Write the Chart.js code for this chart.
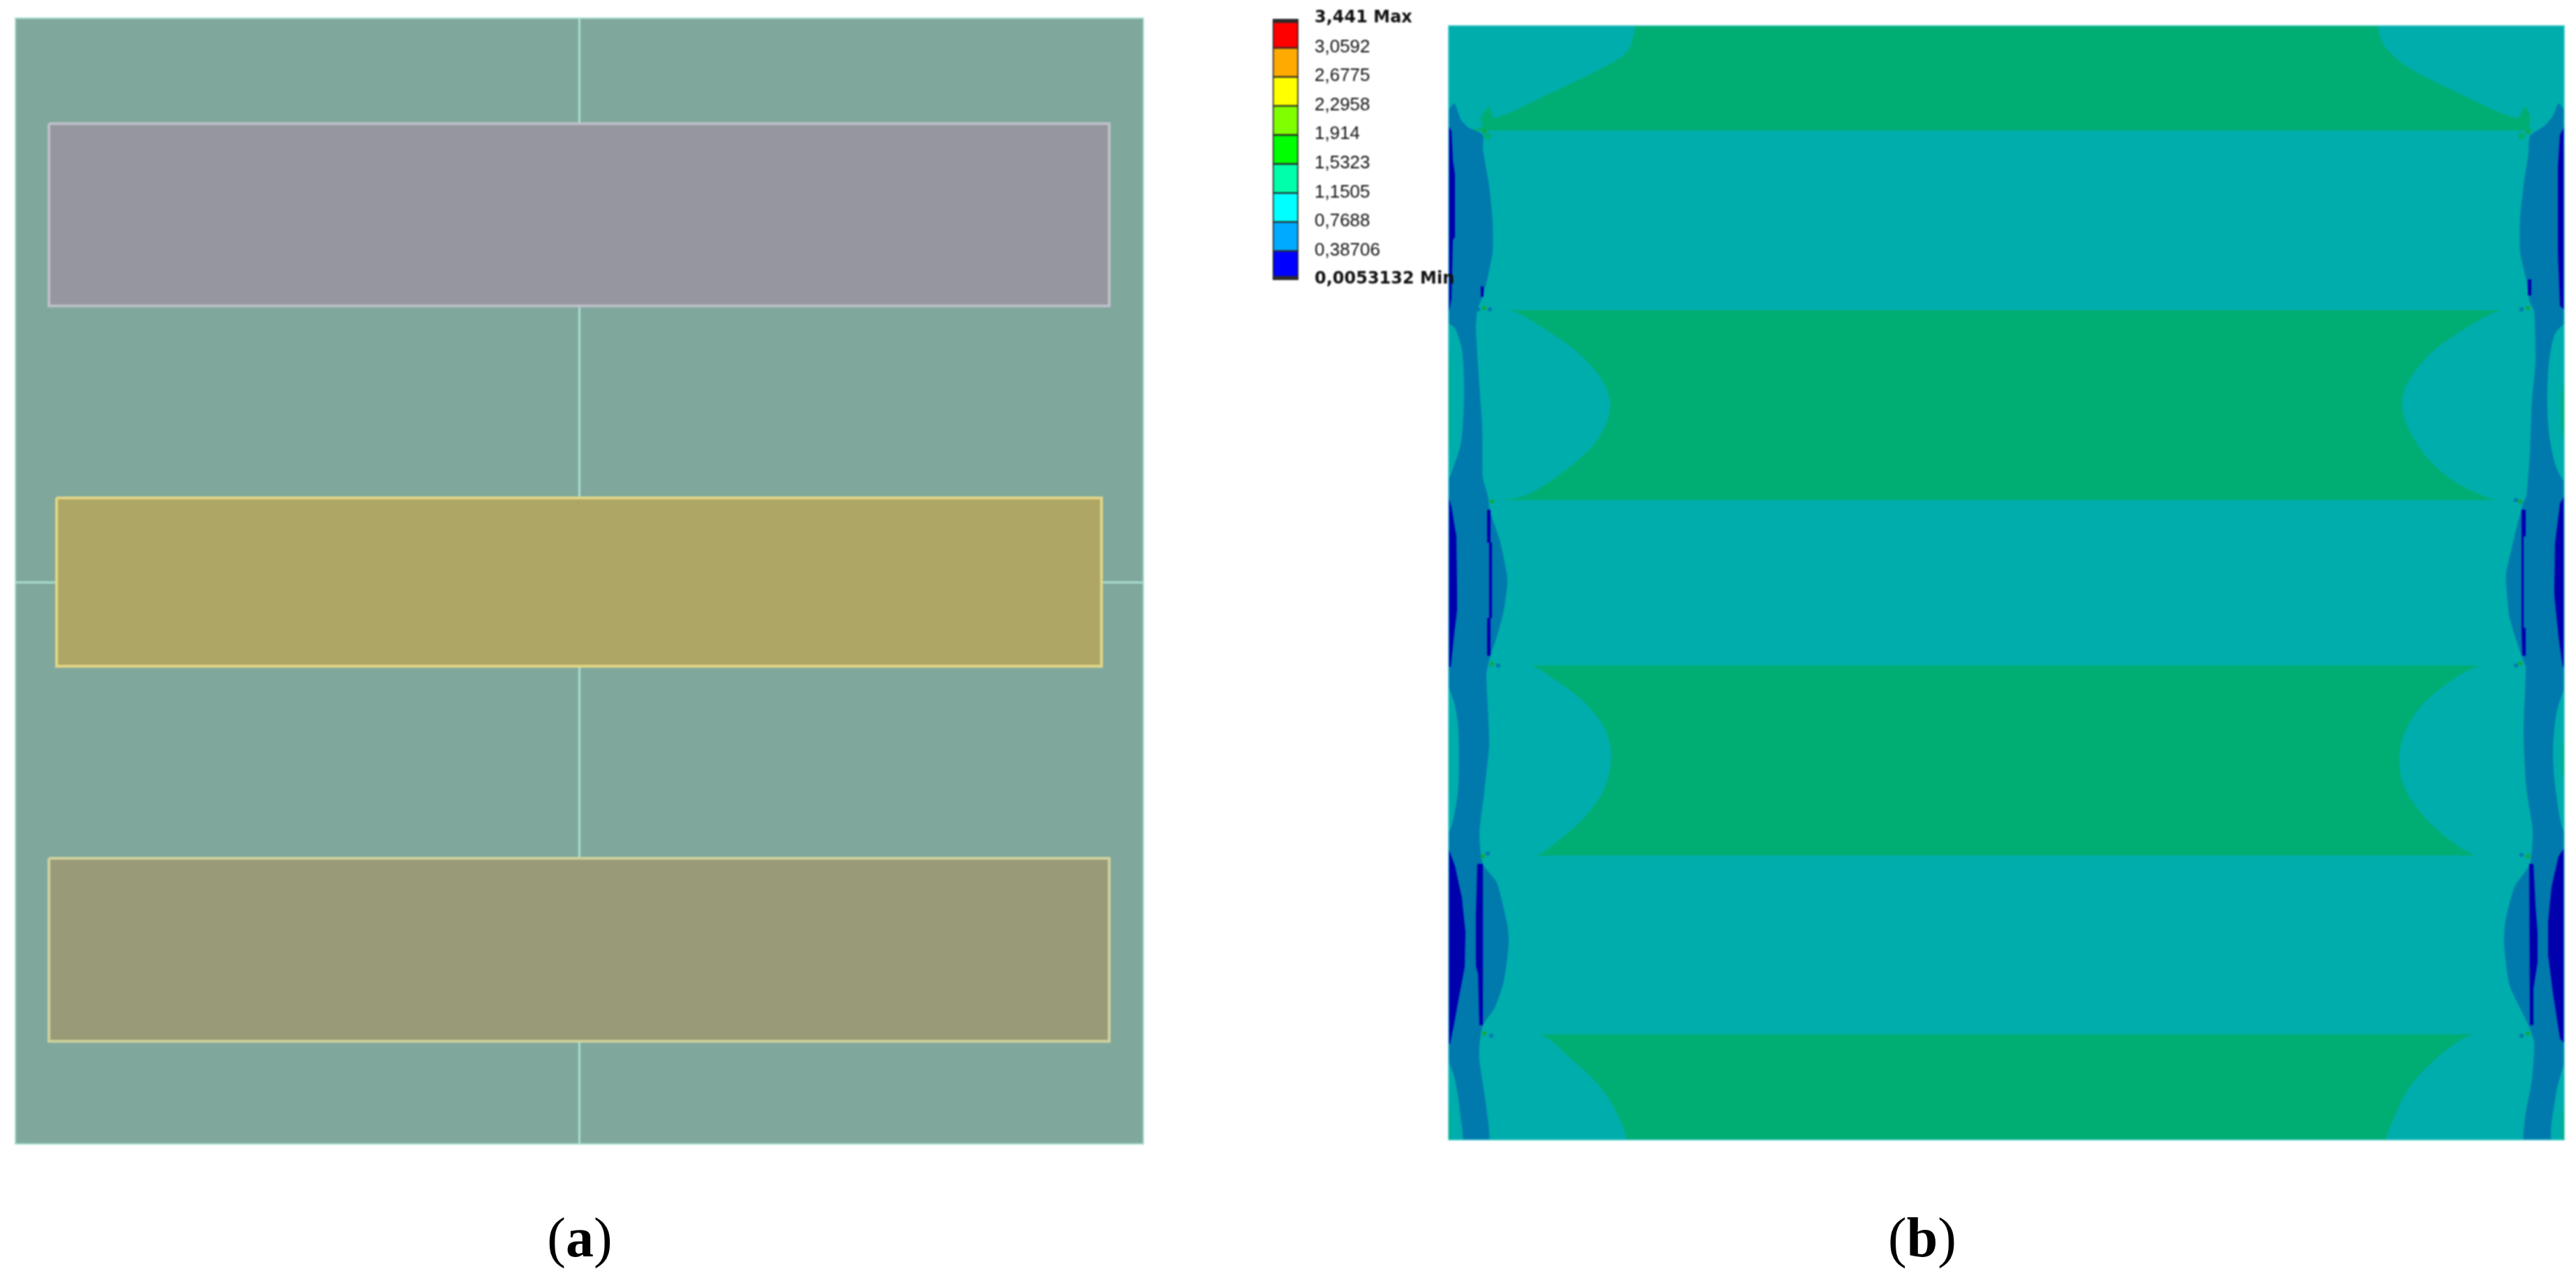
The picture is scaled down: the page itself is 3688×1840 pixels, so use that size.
<!DOCTYPE html>
<html>
<head>
<meta charset="utf-8">
<script src="https://cdn.jsdelivr.net/npm/chart.js@4"></script>
<style>
    html, body { margin: 0; background: #fff; width: 3688px; height: 1840px; overflow: hidden; }
    canvas { position: absolute; filter: blur(0.8px); }
    #painelA { left: 21px; top: 25px; }
    #painelB { left: 2073px; top: 36px; }
    #escala { left: 1822px; top: 0; }
    .legenda { position: absolute; top: 1732px; width: 300px; text-align: center;
               font: 80px/1 "Liberation Serif", serif; color: #000; }
</style>
</head>
<body>
<canvas id="painelA" width="1617" height="1614"></canvas>
<canvas id="painelB" width="1599" height="1597"></canvas>
<canvas id="escala" width="330" height="430"></canvas>
<div class="legenda" style="left: 680px">(<b>a</b>)</div>
<div class="legenda" style="left: 2602px">(<b>b</b>)</div>

<script>
// Escala de cores
const NIVEIS = [3.441, 3.0592, 2.6775, 2.2958, 1.914, 1.5323, 1.1505, 0.7688, 0.38706, 0.0053132];
const ROTULOS = ["3,441 Max", "3,0592", "2,6775", "2,2958", "1,914", "1,5323", "1,1505", "0,7688", "0,38706", "0,0053132 Min"];
const CORES_ESCALA = ["#ff0000", "#ffaa00", "#ffff00", "#80ff00", "#00ff00", "#00ffaa", "#00ffff", "#00aaff", "#0000ff"];

// Painel (a): limites e placas
const LIMITES_A = { xMin: 21, xMax: 1638, yMin: 25, yMax: 1639 };
const placaTopo = [[70, 177], [1588, 177], [1588, 438], [70, 438], [70, 177]];
const placaMeio = [[81, 713], [1577, 713], [1577, 954], [81, 954], [81, 713]];
const placaBase = [[70, 1229], [1588, 1229], [1588, 1491], [70, 1491], [70, 1229]];
const linhasA = [
    [[829.5, 25], [829.5, 177]], [[829.5, 438], [829.5, 713]],
    [[829.5, 954], [829.5, 1229]], [[829.5, 1491], [829.5, 1639]],
    [[21, 834], [81, 834]], [[1577, 834], [1638, 834]]
];

// Painel (b): limites e regioes do contorno
const LIMITES_B = { xMin: 2073, xMax: 3672, yMin: 36, yMax: 1633 };
const moldura = [[2073, 36], [3672, 36], [3672, 1633], [2073, 1633], [2073, 36]];

const faixaVerde1 = [[2073, 36], [3672, 36], [3672, 187], [2073, 187]];
const faixaVerde2 = [[2073, 444], [3672, 444], [3672, 716], [2073, 716]];
const faixaVerde3 = [[2073, 953], [3672, 953], [3672, 1225], [2073, 1225]];
const faixaVerde4 = [[2073, 1481], [3672, 1481], [3672, 1633], [2073, 1633]];

const loboTopoEsq = [[2073, 30], [2337, 30], [2337, 57], [2327, 77], [2293, 98], [2227, 130], [2140, 169], [2132, 153], [2120, 169], [2122, 182], [2073, 187]];
const loboTopoDir = [[3672, 30], [3408, 30], [3407, 51], [3417, 70], [3447, 96], [3513, 130], [3603, 169], [3615, 153], [3622, 166], [3623, 185], [3672, 187]];
const lobo2Esq = [[2073, 444], [2160, 444], [2210, 470], [2260, 506], [2293, 543], [2305, 574], [2300, 606], [2277, 642], [2227, 684], [2187, 708], [2150, 716], [2073, 716]];
const lobo2Dir = [[3672, 444], [3583, 444], [3530, 470], [3480, 506], [3447, 548], [3439, 577], [3447, 611], [3473, 653], [3513, 689], [3563, 713], [3587, 717], [3672, 716]];
const lobo3Esq = [[2073, 953], [2190, 953], [2227, 974], [2267, 1004], [2297, 1042], [2307, 1080], [2297, 1129], [2267, 1172], [2227, 1207], [2197, 1225], [2073, 1225]];
const lobo3Dir = [[3672, 953], [3553, 953], [3513, 972], [3467, 1010], [3443, 1048], [3435, 1086], [3443, 1129], [3473, 1172], [3513, 1207], [3547, 1225], [3672, 1225]];
const lobo4Esq = [[2073, 1481], [2203, 1481], [2247, 1514], [2287, 1552], [2313, 1590], [2325, 1640], [2073, 1640]];
const lobo4Dir = [[3672, 1481], [3543, 1481], [3497, 1508], [3453, 1552], [3430, 1595], [3420, 1640], [3672, 1640]];

const azulEsq = [[2073, 159], [2082, 148], [2092, 172], [2103, 183], [2123, 193], [2123, 213], [2132, 266], [2137, 318], [2137, 360], [2130, 397], [2123, 423], [2115, 444], [2113, 470], [2118, 553], [2122, 611], [2123, 684], [2130, 710], [2133, 731], [2147, 773], [2157, 820], [2158, 836], [2153, 874], [2143, 912], [2133, 942], [2128, 966], [2132, 1064], [2125, 1134], [2118, 1194], [2123, 1237], [2143, 1264], [2158, 1324], [2160, 1351], [2153, 1405], [2140, 1443], [2123, 1468], [2118, 1497], [2118, 1519], [2127, 1579], [2130, 1640], [2060, 1640], [2060, 159]];
const azulDir = [[3672, 159], [3663, 148], [3655, 166], [3643, 180], [3622, 195], [3620, 219], [3613, 266], [3608, 313], [3608, 360], [3617, 402], [3622, 433], [3628, 444], [3630, 517], [3625, 574], [3622, 648], [3617, 710], [3612, 721], [3600, 768], [3588, 820], [3588, 836], [3593, 885], [3610, 939], [3616, 955], [3613, 1048], [3617, 1129], [3626, 1189], [3622, 1237], [3600, 1270], [3587, 1319], [3585, 1351], [3593, 1411], [3620, 1468], [3628, 1492], [3625, 1546], [3616, 1595], [3615, 1640], [3690, 1640], [3690, 159]];

const bordaEsq1 = [[2073, 462], [2083, 470], [2093, 501], [2096, 564], [2092, 632], [2083, 663], [2073, 687], [2060, 687], [2060, 462]];
const bordaEsq2 = [[2073, 980], [2083, 1010], [2088, 1048], [2088, 1123], [2082, 1167], [2073, 1194], [2060, 1194], [2060, 980]];
const bordaEsq3 = [[2073, 1516], [2083, 1546], [2090, 1590], [2092, 1640], [2060, 1640], [2060, 1516]];
const bordaDir1 = [[3672, 462], [3657, 480], [3648, 533], [3648, 606], [3657, 661], [3672, 690], [3690, 690], [3690, 462]];
const bordaDir2 = [[3672, 983], [3660, 1021], [3655, 1080], [3660, 1140], [3672, 1194], [3690, 1194], [3690, 983]];
const bordaDir3 = [[3672, 1519], [3660, 1563], [3654, 1640], [3690, 1640], [3690, 1519]];

// Filetes verdes na borda dos lobulos laterais
const filetesVerdes = [
    [[2073, 490], [2076, 520], [2076, 630], [2073, 658]],
    [[2073, 1020], [2075, 1050], [2075, 1130], [2073, 1156]],
    [[2073, 1562], [2076, 1590], [2076, 1633], [2073, 1633]],
    [[3672, 533], [3667, 570], [3667, 610], [3672, 642]],
    [[3672, 1050], [3668, 1070], [3668, 1105], [3672, 1120]],
    [[3672, 1568], [3668, 1600], [3668, 1633], [3672, 1633]]
];

const minEsq1 = [[2073, 180], [2078, 187], [2080, 229], [2083, 250], [2083, 339], [2080, 344], [2078, 428], [2075, 444], [2073, 444]];
const minEsq2 = [[2073, 708], [2078, 726], [2085, 768], [2086, 840], [2086, 874], [2082, 907], [2077, 955], [2073, 955]];
const minEsq3 = [[2073, 1213], [2083, 1240], [2093, 1286], [2098, 1335], [2097, 1384], [2088, 1432], [2082, 1465], [2076, 1495], [2073, 1495]];
const minEsq4 = [[2120, 410], [2124, 410], [2124, 425], [2120, 425]];
const minEsq5 = [[2129, 730], [2134, 730], [2134, 777], [2136, 777], [2136, 885], [2134, 885], [2134, 939], [2129, 939], [2129, 885], [2132, 885], [2132, 777], [2129, 777]];
const minEsq6 = [[2115, 1237], [2123, 1237], [2123, 1468], [2118, 1468], [2116, 1394], [2113, 1384], [2113, 1308]];
const minDir1 = [[3672, 180], [3665, 193], [3662, 240], [3662, 360], [3665, 438], [3672, 444]];
const minDir2 = [[3672, 709], [3665, 721], [3658, 778], [3657, 840], [3657, 852], [3663, 912], [3669, 955], [3672, 955]];
const minDir3 = [[3672, 1213], [3663, 1226], [3653, 1270], [3648, 1319], [3648, 1367], [3655, 1422], [3665, 1487], [3672, 1495]];
const minDir4 = [[3619, 400], [3624, 400], [3624, 423], [3619, 423]];
const minDir5 = [[3610, 730], [3616, 730], [3616, 768], [3613, 768], [3613, 899], [3616, 899], [3616, 939], [3611, 939], [3610, 899], [3610, 768]];
const minDir6 = [[3621, 1237], [3627, 1237], [3630, 1297], [3633, 1335], [3633, 1378], [3627, 1416], [3627, 1468], [3622, 1468]];

// Pontos de concentracao nos cantos das placas
const picos = [[2125, 188], [2125, 441], [2136, 718], [2136, 951], [2123, 1226], [2125, 1480],
               [3619, 189], [3619, 441], [3608, 718], [3608, 950], [3619, 1226], [3619, 1480]];
const picosAzuis = [[2116, 443], [2133, 443], [2128, 716], [2145, 953], [2130, 1222], [2115, 1233], [2135, 1483],
                    [3610, 443], [3630, 441], [3602, 716], [3602, 953], [3610, 1224], [3610, 1483]];
const picosVerdes = [[2130, 195], [3610, 195], [3612, 181]];

const COR_PAINEL_A = "#80a79c";
const COR_LINHA_A = "#a9dfd2";
const TEAL = "#00adad";
const VERDE = "#00ad73";
const AZUL = "#0079ad";
const AZUL_ESCURO = "#0000ad";

function regiao(pontos, cor, curva, borda) {
    return {
        data: pontos.map(([x, y]) => ({ x, y })),
        showLine: true,
        fill: "shape",
        backgroundColor: cor,
        borderColor: borda || cor,
        borderWidth: borda ? 4 : 0,
        pointRadius: 0,
        tension: curva || 0
    };
}

function linha(pontos, cor, largura) {
    return {
        data: pontos.map(([x, y]) => ({ x, y })),
        showLine: true,
        fill: false,
        borderColor: cor,
        borderWidth: largura,
        pointRadius: 0
    };
}

function marcadores(pontos, cor, raio) {
    return {
        data: pontos.map(([x, y]) => ({ x, y })),
        showLine: false,
        backgroundColor: cor,
        borderWidth: 0,
        pointRadius: raio
    };
}

function criarPainel(id, limites, camadas) {
    return new Chart(document.getElementById(id), {
        type: "scatter",
        // O Chart.js desenha o primeiro dataset por cima, entao inverte as camadas
        data: { datasets: camadas.slice().reverse() },
        options: {
            responsive: false,
            animation: false,
            devicePixelRatio: 1,
            // sem autoPadding a area do grafico ocupa o canvas inteiro
            layout: { padding: 0, autoPadding: false },
            plugins: { legend: { display: false }, tooltip: { enabled: false } },
            scales: {
                x: { type: "linear", display: false, min: limites.xMin, max: limites.xMax },
                y: { type: "linear", display: false, reverse: true, min: limites.yMin, max: limites.yMax }
            }
        }
    });
}

criarPainel("painelA", LIMITES_A, [
    regiao([[21, 25], [1638, 25], [1638, 1639], [21, 1639]], COR_PAINEL_A),
    ...linhasA.map(l => linha(l, COR_LINHA_A, 3)),
    regiao(placaTopo, "#96969f", 0, "#bcc0c9"),
    regiao(placaMeio, "#ada664", 0, "#e3d685"),
    regiao(placaBase, "#999a77", 0, "#cfd29c"),
    linha([[21, 25], [1638, 25], [1638, 1639], [21, 1639], [21, 25]], COR_LINHA_A, 4)
]);

criarPainel("painelB", LIMITES_B, [
    regiao(moldura, TEAL),
    ...[faixaVerde1, faixaVerde2, faixaVerde3, faixaVerde4].map(p => regiao(p, VERDE)),
    ...[loboTopoEsq, loboTopoDir, lobo2Esq, lobo2Dir, lobo3Esq, lobo3Dir, lobo4Esq, lobo4Dir].map(p => regiao(p, TEAL, 0.3)),
    ...[azulEsq, azulDir].map(p => regiao(p, AZUL, 0.2)),
    ...[bordaEsq1, bordaEsq2, bordaEsq3, bordaDir1, bordaDir2, bordaDir3].map(p => regiao(p, TEAL, 0.3)),
    ...filetesVerdes.map(p => regiao(p, VERDE)),
    ...[minEsq1, minEsq2, minEsq3, minEsq4, minEsq5, minEsq6, minDir1, minDir2, minDir3, minDir4, minDir5, minDir6].map(p => regiao(p, AZUL_ESCURO)),
    marcadores(picosVerdes, VERDE, 5),
    marcadores(picosAzuis, AZUL, 3),
    marcadores(picos, "#14a83c", 3),
    linha(moldura, "#58d2d2", 3)
]);

// Barra de cores: um intervalo flutuante para cada par de niveis
const celulas = CORES_ESCALA.map((cor, i) => ({
    data: [[NIVEIS[i + 1], NIVEIS[i]]],
    backgroundColor: cor,
    borderColor: "#2a2a2a",
    borderSkipped: false,
    borderWidth: {
        top: i === 0 ? 6 : 1.5,
        bottom: i === CORES_ESCALA.length - 1 ? 6 : 1.5,
        left: 2,
        right: 2
    },
    barPercentage: 1,
    categoryPercentage: 1
}));

new Chart(document.getElementById("escala"), {
    type: "bar",
    data: { labels: ["tensao"], datasets: celulas },
    options: {
        responsive: false,
        animation: false,
        devicePixelRatio: 1,
        layout: { padding: { top: 27, bottom: 29 } },
        plugins: { legend: { display: false }, tooltip: { enabled: false } },
        scales: {
            x: { display: false, stacked: true },
            y: {
                position: "right",
                min: NIVEIS[NIVEIS.length - 1],
                max: NIVEIS[0],
                grid: { display: false, drawTicks: false },
                border: { display: false },
                afterBuildTicks: s => { s.ticks = NIVEIS.map(value => ({ value })); },
                // a altura da barra vem so do padding do layout
                afterFit: s => { s.width = 293; s.paddingTop = 0; s.paddingBottom = 0; },
                ticks: {
                    autoSkip: false,
                    padding: 23,
                    crossAlign: "near",
                    labelOffset: -1,
                    color: "#111",
                    callback: (valor, i) => ROTULOS[i],
                    font: ctx => {
                        const negrito = ctx.index === 0 || ctx.index === NIVEIS.length - 1;
                        return negrito
                            ? { family: "DejaVu Sans", weight: "bold", size: 24 }
                            : { family: "Liberation Sans", size: 26 };
                    }
                }
            }
        }
    }
});
</script>
</body>
</html>
